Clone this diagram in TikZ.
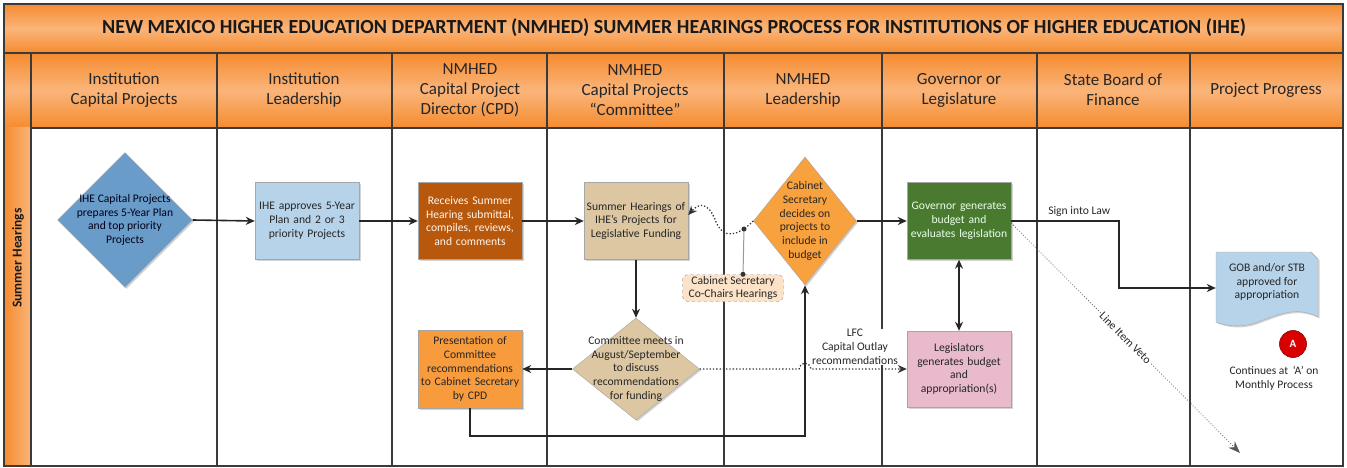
\documentclass[tikz,border=0pt]{standalone}
\usepackage{fontspec}
\setmainfont{Carlito}
\usepackage{xcolor}
\usepackage{tikz}
\usetikzlibrary{shapes,arrows.meta,positioning,shadows}

\definecolor{hdrorange}{HTML}{F58B2F}
\definecolor{hdrlight}{HTML}{FAB57A}
\definecolor{laneline}{HTML}{3A3A3A}
\definecolor{planblue}{HTML}{6A9CC9}
\definecolor{paleblue}{HTML}{B7D3EA}
\definecolor{rust}{HTML}{B8580C}
\definecolor{hearingtan}{HTML}{DCC7A2}
\definecolor{amber}{HTML}{F8A13F}
\definecolor{leafgreen}{HTML}{4A7A30}
\definecolor{rosepink}{HTML}{E8BACB}
\definecolor{peach}{HTML}{FCE3C8}
\definecolor{sunorange}{HTML}{F79B3C}

\begin{document}
\begin{tikzpicture}[x=1pt, y=-1pt,
    lane/.style={draw=laneline, line width=1.2pt},
    header/.style={align=center, text=black!85, font=\fontsize{17}{20}\selectfont},
    block/.style={rectangle, draw=black!35, text width=100pt, align=center, minimum width=104pt, minimum height=77pt, inner sep=2pt, font=\fontsize{11.6}{13.8}\selectfont, text=black!85, drop shadow={opacity=0.35, shadow xshift=1.5pt, shadow yshift=-1.5pt}},
    decision/.style={diamond, draw=black!35, inner sep=0pt, drop shadow={opacity=0.35, shadow xshift=1.5pt, shadow yshift=-1.5pt}},
    dtext/.style={align=center, font=\fontsize{11.6}{13.8}\selectfont, text=black!85},
    flow/.style={draw=black!85, line width=1.6pt, -{Stealth[length=9pt, width=8pt]}},
    linkdots/.style={draw=black!80, line width=1.3pt, dotted, -{Stealth[length=9pt, width=8pt]}}
]
\useasboundingbox (0,0) rectangle (1347,468);

% swimlane frame
\shade[top color=hdrorange, bottom color=hdrorange, middle color=hdrlight] (4,4) rectangle (1343,53);
\shade[top color=hdrorange, bottom color=hdrorange, middle color=hdrlight] (4,53) rectangle (1343,128);
\shade[left color=hdrorange, right color=hdrlight] (4,128) rectangle (31,466);
\draw[lane] (4,4) rectangle (1343,466);
\draw[lane] (4,53) -- (1343,53) (31,128) -- (1343,128) (31,53) -- (31,466);
\draw[lane] (217,53) -- (217,466) (392,53) -- (392,466) (547,53) -- (547,466) (724,53) -- (724,466)
            (882,53) -- (882,466) (1037,53) -- (1037,466) (1190,53) -- (1190,466);

\node[font=\fontsize{20}{24}\selectfont\bfseries, text=black!90] (title) at (674,28) {NEW MEXICO HIGHER EDUCATION DEPARTMENT (NMHED) SUMMER HEARINGS PROCESS FOR INSTITUTIONS OF HIGHER EDUCATION (IHE)};
\node[rotate=90, font=\fontsize{13.5}{16}\selectfont\bfseries, text=black!90] (lane_label) at (18,258) {Summer Hearings};

\node[header] (hdr_ihe) at (124,90) {Institution\\Capital Projects};
\node[header] (hdr_lead) at (304,90) {Institution\\Leadership};
\node[header] (hdr_cpd) at (470,90) {NMHED\\Capital Project\\Director (CPD)};
\node[header] (hdr_comm) at (635,90) {NMHED\\Capital Projects\\“Committee”};
\node[header] (hdr_nmhed) at (803,90) {NMHED\\Leadership};
\node[header] (hdr_gov) at (959,90) {Governor or\\Legislature};
\node[header] (hdr_sbf) at (1113,90) {State Board of\\Finance};
\node[header] (hdr_prog) at (1266,90) {Project Progress};

% process steps
\node[decision, fill=planblue, minimum width=135pt, minimum height=135pt,
      label={[dtext, text=black!90!blue]center:IHE Capital Projects\\prepares 5-Year Plan\\and top priority\\Projects}] (plan_block) at (125,220) {};
\node[block, fill=paleblue] (approve_block) at (307,221) {IHE approves 5-Year\\Plan and 2 or 3\\priority Projects};
\node[block, fill=rust, text=white!92!orange] (receive_block) at (470,221) {Receives Summer\\Hearing submittal,\\compiles, reviews,\\and comments};
\node[block, fill=hearingtan, minimum width=103pt] (hearing_block) at (636,221) {Summer Hearings of\\IHE’s Projects for\\Legislative Funding};
\node[decision, fill=amber, minimum width=103pt, minimum height=128pt,
      label={[dtext]center:Cabinet\\Secretary\\decides on\\projects to\\include in\\budget}] (decide_block) at (805,221) {};
\node[block, fill=leafgreen, text=green!8!white] (governor_block) at (959,221) {Governor generates\\budget and\\evaluates legislation};
\node[block, fill=rosepink, minimum height=76pt] (legis_block) at (959,369) {Legislators\\generates budget\\and\\appropriation(s)};
\node[decision, fill=hearingtan, minimum width=127pt, minimum height=102pt,
      label={[dtext]center:Committee meets in\\August/September\\to discuss\\recommendations\\for funding}] (meet_block) at (636,369) {};
\node[block, fill=sunorange, minimum height=78pt] (present_block) at (470,369) {Presentation of\\Committee\\recommendations\\to Cabinet Secretary\\by CPD};
\node[rectangle, rounded corners=6pt, draw=black!45, dashed, fill=peach, dtext, minimum width=101pt, minimum height=27pt, inner sep=1pt] (cochair_note) at (733,288) {Cabinet Secretary\\Co-Chairs Hearings};

% document step in the last lane
\filldraw[fill=paleblue, draw=black!35, drop shadow={opacity=0.35, shadow xshift=1.5pt, shadow yshift=-1.5pt}]
    (1216,252) -- (1311,252) -- (1318,259) -- (1318,317)
    .. controls (1295,305) and (1275,316) .. (1255,323)
    .. controls (1240,328) and (1226,326) .. (1216,322) -- cycle;
\node[dtext, minimum width=102pt, minimum height=66pt, inner sep=0pt] (doc_block) at (1267,282) {GOB and/or STB\\approved for\\appropriation};
\node[circle, fill=red!85!black, draw=red!55!black, line width=0.6pt, minimum size=27pt, inner sep=0pt, text=white, font=\fontsize{11}{13}\selectfont\bfseries] (a_mark) at (1293,344) {A};
\node[dtext, font=\fontsize{11.5}{14}\selectfont] (continue_note) at (1274,378) {Continues at \,‘A’ on\\Monthly Process};

% connectors
\draw[flow] (plan_block.east) -- (approve_block.west);
\draw[flow] (approve_block.east) -- (receive_block.west);
\draw[flow] (receive_block.east) -- (hearing_block.west);
\draw[flow] (hearing_block.south) -- (meet_block.north);
\draw[flow] (meet_block.west) -- (present_block.east);
\draw[flow] (present_block.south) -- ++(0,28) -| (decide_block.south);
\draw[flow] (decide_block.east) -- (governor_block.west);
\draw[flow, {Stealth[length=9pt, width=8pt]}-{Stealth[length=9pt, width=8pt]}] (governor_block.south) -- (legis_block.north);
\draw[flow] (governor_block.east) -- ++(108,0) node[pos=0.63, above, dtext] (law_label) {Sign into Law} |- ([yshift=-6pt]doc_block.west);

\coordinate (cochair_pin) at (744,229);
\draw[linkdots] (decide_block.west) .. controls (738,236) and (724,240) .. (716,222)
    .. controls (708,200) and (698,204) .. ([yshift=6pt]hearing_block.east);
\draw[draw=black!40, line width=1pt] (cochair_pin) -- ([xshift=10pt]cochair_note.north);
\fill[black!80] (cochair_pin) circle (2.5pt) ([xshift=10pt]cochair_note.north) circle (2.5pt);

\draw[linkdots] (meet_block.east) -- (799,369) .. controls (801,361) and (809,361) .. (811,369) -- (legis_block.west);
\node[dtext, fill=white, inner sep=0.5pt] (lfc_label) at (855,347) {LFC\\Capital Outlay\\recommendations};

\coordinate (veto_end) at (1240,453);
\draw[draw=black!65, line width=0.8pt, dotted, -{Stealth[length=12pt, width=9pt]}] ([yshift=-2pt]governor_block.east) -- (veto_end)
    node[pos=0.5, sloped, fill=white, inner sep=1pt, dtext] (veto_label) {Line Item Veto};

\end{tikzpicture}
\end{document}
